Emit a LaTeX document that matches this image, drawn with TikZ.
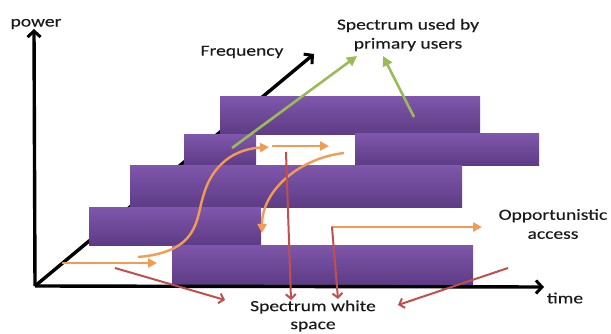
\documentclass[tikz,border=0pt]{standalone}
\usepackage{fontspec}
\setmainfont{Carlito}[FakeStretch=1.26,FakeBold=0.3]
\usetikzlibrary{arrows.meta}
\definecolor{barTop}{HTML}{7E56AB}
\definecolor{barBot}{HTML}{5D3B84}
\definecolor{org}{HTML}{F29B55}
\definecolor{redA}{HTML}{C0504D}
\definecolor{grn}{HTML}{9BBB59}
\definecolor{txt}{HTML}{1A1A1A}
\begin{document}
\begin{tikzpicture}[x=1pt,y=-1pt,
  bar/.style={top color=barTop, bottom color=barBot, draw=none},
  axis/.style={line width=3.4pt, -{Straight Barb[length=6pt,width=13pt,line width=3pt]}},
  lbl/.style={font=\fontsize{15.5}{19}\selectfont, text=txt, align=center, inner sep=0pt},
  garr/.style={grn, line width=2.6pt, -{Triangle[length=10pt,width=10pt]}},
  oarr/.style={org, line width=2.4pt, -{Triangle[length=9pt,width=9pt]}},
  rarr/.style={redA, line width=2pt, -{Straight Barb[length=4.5pt,width=10pt,line width=2pt]}}]
\useasboundingbox (0,0) rectangle (611,334);
% axes coordinates
\coordinate (O) at (35,286);
\coordinate (Ptip) at (34,29);
\coordinate (Ttip) at (544,287);
\coordinate (Ftip) at (314,54);
% frequency axis (behind bars)
\draw[axis] (O) -- (Ftip);
% bars
\fill[bar] (220,97) rectangle (480,135);
\fill[bar] (184,135) rectangle (256,166);
\fill[bar] (355,134) rectangle (539,166);
\fill[bar] (130,166) rectangle (462,208);
\fill[bar] (89,208) rectangle (261,245);
\fill[bar] (172,245) rectangle (473,285);
% power and time axes
\draw[axis] (O) -- (Ptip);
\draw[axis] (O) -- (Ttip);
% labels
\node[lbl] (power) at (36,24) {power};
\node[lbl] (freq) at (242,52) {Frequency};
\node[lbl] (spu) at (408,35) {Spectrum used by\\primary users};
\node[lbl] (opp) at (553,224) {Opportunistic\\access};
\node[lbl] (time) at (565,298) {time};
\node[lbl, font=\fontsize{15.5}{18}\selectfont] (sws) at (313,316) {Spectrum white\\space};
% green arrows
\coordinate (g1s) at (232,148); \coordinate (g1e) at (357,56);
\coordinate (g2s) at (414,117); \coordinate (g2e) at (383,56);
\draw[garr] (g1s) -- (g1e);
\draw[garr] (g2s) -- (g2e);
% orange arrows
\coordinate (o1s) at (272,146); \coordinate (o1e) at (329,146);
\coordinate (o2s) at (62,263); \coordinate (o2e) at (157,263);
\coordinate (o3s) at (138,257); \coordinate (o3m) at (203,197); \coordinate (o3e) at (269,147);
\coordinate (o4s) at (344,153); \coordinate (o4e) at (262,233);
\coordinate (o5s) at (331,227); \coordinate (o5e) at (482,227);
\draw[oarr] (o1s) -- (o1e);
\draw[oarr] (o2s) -- (o2e);
\draw[oarr] (o3s) .. controls (200,252) and (196,218) .. (o3m) .. controls (212,163) and (236,149) .. (o3e);
\draw[oarr] (o4s) .. controls (300,158) and (262,190) .. (o4e);
\draw[oarr] (o5s) -- (o5e);
% red arrows
\coordinate (r1s) at (115,268); \coordinate (r1e) at (225,300);
\coordinate (r2s) at (286,152); \coordinate (r2e) at (291,300);
\coordinate (r3s) at (332,227); \coordinate (r3e) at (338,299);
\coordinate (r4s) at (508,268); \coordinate (r4e) at (398,305);
\draw[rarr] (r1s) -- (r1e);
\draw[rarr] (r2s) -- (r2e);
\draw[rarr] (r3s) -- (r3e);
\draw[rarr] (r4s) -- (r4e);
\end{tikzpicture}
\end{document}
